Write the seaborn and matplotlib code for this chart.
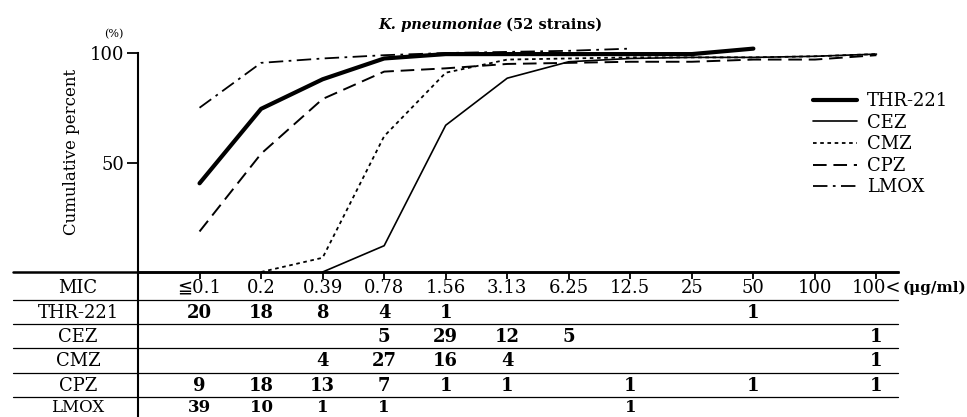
import numpy as np
import pandas as pd
import matplotlib
matplotlib.use("Agg")
import matplotlib.pyplot as plt
import seaborn as sns
from matplotlib.lines import Line2D
from matplotlib.transforms import blended_transform_factory

# ---------------- data ----------------
mic_labels = ["≦0.1", "0.2", "0.39", "0.78", "1.56", "3.13", "6.25",
              "12.5", "25", "50", "100", "100<"]
drugs = ["THR-221", "CEZ", "CMZ", "CPZ", "LMOX"]
nan = np.nan
# cumulative percent
cum_thr = [40.5, 74.5, 88.0, 97.5, 99.5, 99.5, 99.5, 99.5, 99.5, 102.0, nan, nan]
cum_cez = [nan, nan, 0.0, 12.0, 67.0, 88.5, 96.0, 97.5, 98.0, 98.0, 98.5, 99.5]
cum_cmz = [nan, 0.0, 6.5, 62.0, 91.0, 97.0, 97.5, 98.0, 98.0, 98.0, 98.5, 99.5]
cum_cpz = [18.5, 54.0, 79.0, 91.5, 93.0, 95.0, 95.5, 96.0, 96.0, 97.0, 97.0, 99.0]
cum_lmox = [75.0, 95.5, 97.5, 99.0, 100.0, 100.5, 101.0, 102.0, nan, nan, nan, nan]
# strain counts shown in the table ('' = blank cell)
cnt_thr = ["20", "18", "8", "4", "1", "", "", "", "", "1", "", ""]
cnt_cez = ["", "", "", "5", "29", "12", "5", "", "", "", "", "1"]
cnt_cmz = ["", "", "4", "27", "16", "4", "", "", "", "", "", "1"]
cnt_cpz = ["9", "18", "13", "7", "1", "1", "", "1", "", "1", "", "1"]
cnt_lmox = ["39", "10", "1", "1", "", "", "", "1", "", "", "", ""]

cum_series = [cum_thr, cum_cez, cum_cmz, cum_cpz, cum_lmox]
cnt_rows = [cnt_thr, cnt_cez, cnt_cmz, cnt_cpz, cnt_lmox]

# ---------------- style ----------------
sns.set_style("white")
plt.rcParams["font.family"] = ["DejaVu Serif", "DejaVu Sans"]
plt.rcParams["font.size"] = 13
plt.rcParams["text.color"] = "black"
plt.rcParams["axes.labelcolor"] = "black"
plt.rcParams["xtick.color"] = "black"
plt.rcParams["ytick.color"] = "black"
plt.rcParams["axes.edgecolor"] = "black"

W, H = 967, 417
fig = plt.figure(figsize=(W / 100, H / 100), dpi=100)

def fx(px):
    return px / W

def fy(py):
    return 1 - py / H

ax_left, ax_right, ax_top, ax_bot = 138, 898, 53, 272
ax = fig.add_axes([fx(ax_left), fy(ax_bot), fx(ax_right - ax_left), (ax_bot - ax_top) / H])

styles = {
    "THR-221": dict(linewidth=3.0, linestyle="-"),
    "CEZ": dict(linewidth=1.2, linestyle="-"),
    "CMZ": dict(linewidth=1.3, linestyle=(0, (2, 2))),
    "CPZ": dict(linewidth=1.4, linestyle=(0, (7, 3.5))),
    "LMOX": dict(linewidth=1.3, linestyle=(0, (8, 3, 1.5, 3))),
}

xpos = np.arange(len(mic_labels))
for name, vals in zip(drugs, cum_series):
    df = pd.DataFrame({"x": xpos, "y": vals}).dropna()
    sns.lineplot(data=df, x="x", y="y", ax=ax, color="black", label=name,
                 clip_on=False, **styles[name])

ax.set_xlim(-1.0, 11.35)
ax.set_ylim(0, 100)
ax.set_xticks(xpos)
ax.set_xticklabels([])
ax.set_yticks([50, 100])
ax.set_yticklabels(["50", "100"], fontsize=13)
ax.tick_params(axis="y", direction="out", length=8, width=1.3, pad=2, left=True,
               colors="black")
ax.tick_params(axis="x", direction="out", length=5, width=1.3, bottom=True,
               colors="black")
ax.set_xlabel("")
ax.set_ylabel("")
for s in ["top", "right"]:
    ax.spines[s].set_visible(False)
ax.spines["left"].set_linewidth(1.5)
ax.spines["bottom"].set_linewidth(1.8)
ax.spines["left"].set_color("black")
ax.spines["bottom"].set_color("black")
ax.set_facecolor("none")

leg = ax.legend(loc="upper left", bbox_to_anchor=(fx(813), fy(92)),
                bbox_transform=fig.transFigure, frameon=False,
                handlelength=2.45, handletextpad=0.55, labelspacing=0.2,
                borderpad=0, borderaxespad=0, fontsize=13)
for t in leg.get_texts():
    t.set_color("black")

# titles / labels
fig.text(fx(502), fy(25), "K. pneumoniae", fontsize=10.5, fontweight="bold",
         fontstyle="italic", ha="right", va="center", color="black")
fig.text(fx(506), fy(25), "(52 strains)", fontsize=10.5, fontweight="bold",
         ha="left", va="center", color="black")
fig.text(fx(114), fy(34), "(%)", fontsize=8, ha="center", va="center", color="black")
fig.text(fx(72), fy(152), "Cumulative percent", fontsize=12, rotation=90,
         ha="center", va="center", color="black")

# ---------------- table ----------------
tr = blended_transform_factory(ax.transData, fig.transFigure)
row_y = [288, 313, 337, 361, 386, 408]
row_fs = [13, 13, 13, 13, 13, 12]
line_y = [300, 324, 348, 373, 397]
label_x = 78

fig.add_artist(Line2D([fx(13), fx(ax_right)], [fy(ax_bot), fy(ax_bot)],
                      color="black", linewidth=1.8, transform=fig.transFigure))
for ly in line_y:
    fig.add_artist(Line2D([fx(13), fx(ax_right)], [fy(ly), fy(ly)],
                          color="black", linewidth=0.9, transform=fig.transFigure))
fig.add_artist(Line2D([fx(ax_left), fx(ax_left)], [fy(ax_bot), fy(417)],
                      color="black", linewidth=1.5, transform=fig.transFigure))

fig.text(fx(label_x), fy(row_y[0]), "MIC", ha="center", va="center", fontsize=13,
         color="black")
for i, lab in enumerate(mic_labels):
    ax.text(xpos[i], fy(row_y[0]), lab, transform=tr, ha="center", va="center",
            fontsize=13, color="black")
fig.text(fx(903), fy(row_y[0]), "(μg/ml)", ha="left", va="center", fontsize=11,
         fontweight="bold", color="black")

for r, (name, row) in enumerate(zip(drugs, cnt_rows), start=1):
    fig.text(fx(label_x), fy(row_y[r]), name, ha="center", va="center",
             fontsize=row_fs[r], color="black")
    for i, v in enumerate(row):
        if v:
            ax.text(xpos[i], fy(row_y[r]), v, transform=tr, ha="center",
                    va="center", fontsize=row_fs[r], fontweight="bold", color="black")

fig.savefig("out.png", dpi=100)
